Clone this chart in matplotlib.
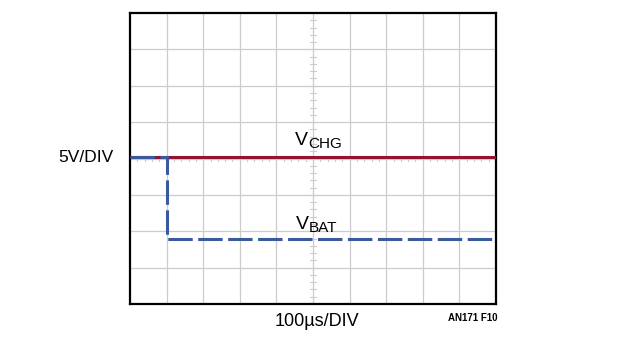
import matplotlib.pyplot as plt
import numpy as np

# scope traces, in divisions (10 x 8 graticule)
t_chg = [0.0, 10.0]
v_chg = [4.04, 4.04]
t_bat = [0.0, 1.0, 1.0, 10.0]
v_bat = [4.04, 4.04, 1.79, 1.79]

volts_label = "5V/DIV"
time_label = "100µs/DIV"
fig_id = "AN171 F10"

red = "#8e1632"
blue = "#3b5a9d"
grid_col = "#cccccc"

plt.rcParams["font.family"] = ["Liberation Sans Narrow", "Liberation Sans", "DejaVu Sans"]

fig = plt.figure(figsize=(6.22, 3.44), dpi=100)
ax = fig.add_axes([130 / 622, 1 - 304 / 344, 366 / 622, 291 / 344])
ax.set_xlim(0, 10)
ax.set_ylim(0, 8)
ax.set_xticks([])
ax.set_yticks([])
for s in ax.spines.values():
    s.set_linewidth(1.6)
    s.set_color("black")

# graticule
for x in range(1, 10):
    ax.axvline(x, color=grid_col, lw=0.9, zorder=1)
for y in range(1, 8):
    ax.axhline(y, color=grid_col, lw=0.9, zorder=1)

# minor ticks along the centre lines
mx = np.arange(0.2, 10, 0.2)
my = np.arange(0.2, 8, 0.2)
for x in mx:
    ax.plot([x, x], [4 - 0.07, 4 + 0.07], color=grid_col, lw=0.8, zorder=1)
for y in my:
    ax.plot([5 - 0.07, 5 + 0.07], [y, y], color=grid_col, lw=0.8, zorder=1)

ax.plot(t_chg, v_chg, color=red, lw=2.2, zorder=3, solid_capstyle="butt")
ax.plot(t_bat, v_bat, color=blue, lw=2.2, dashes=(8, 1.8), zorder=4)

# trace names
def trace_name(x, y, main, sub):
    t = ax.text(x, y, main, fontsize=14, ha="left", va="baseline", zorder=5)
    ax.annotate(sub, xy=(1, 0), xycoords=t, xytext=(0, 0.8),
                textcoords="offset points", fontsize=11, ha="left", va="baseline")

trace_name(4.51, 4.37, "V", "CHG")
trace_name(4.54, 2.06, "V", "BAT")

fig.text(114 / 622, 1 - 158 / 344, volts_label, fontsize=12.5, ha="right", va="center")
fig.text(317 / 622, 1 - 326 / 344, time_label, fontsize=13, ha="center", va="baseline")
fig.text(497 / 622, 1 - 318 / 344, fig_id, fontsize=7, fontweight="bold",
         ha="right", va="center")

fig.savefig("out.png", dpi=100)
